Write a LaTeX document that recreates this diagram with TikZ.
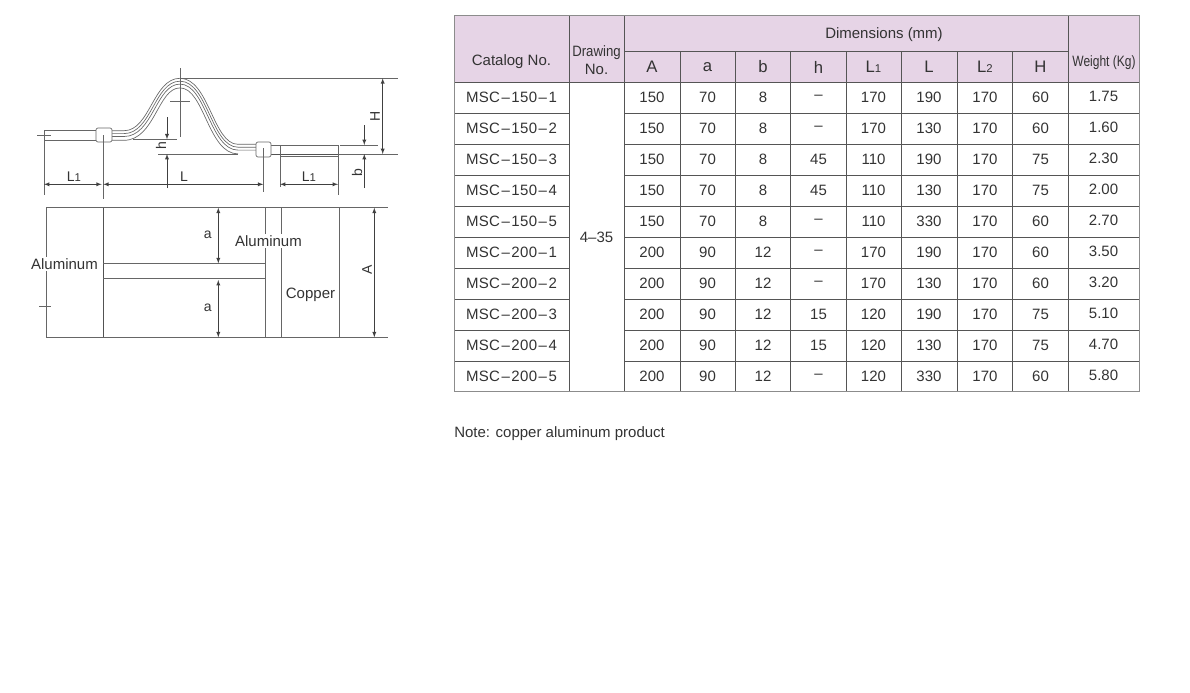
\documentclass[tikz,border=0pt]{standalone}
\usepackage{fontspec}
\setmainfont{Liberation Sans}
\usetikzlibrary{arrows,positioning}
\definecolor{hdpink}{HTML}{E6D4E6}
\definecolor{inkgray}{HTML}{333333}
\definecolor{rulegray}{HTML}{555555}
\definecolor{skgray}{HTML}{666666}
\newcommand{\sub}[1]{{\fontsize{8.5pt}{8.5pt}\selectfont #1}}
\newcommand{\dsh}{\kern1.2pt–\kern1.2pt}
\begin{document}
\begin{tikzpicture}
[x=0.75pt,y=-0.75pt,
 txt/.style={text=inkgray,inner sep=0pt,font=\fontsize{11.25pt}{13pt}\selectfont},
 hd/.style={txt,font=\fontsize{12.5pt}{14pt}\selectfont},
 lab/.style={txt,font=\fontsize{11.25pt}{12pt}\selectfont},
 dl/.style={txt,font=\fontsize{10.5pt}{12pt}\selectfont},
 labw/.style={lab,fill=white,inner ysep=1pt},
 sk/.style={draw=skgray,line width=0.5pt},
 skd/.style={draw=skgray!80!black,line width=0.75pt},
 dim/.style={draw=black!75,line width=0.4pt,latex-latex},
 dimto/.style={draw=black!75,line width=0.4pt,-latex},
 clamp/.style={draw=skgray,fill=white,rounded corners=1.5pt,line width=0.5pt,inner sep=0pt},
 grid/.style={draw=rulegray,line width=0.6pt},
 frame/.style={draw=black!45,line width=0.6pt}]
\useasboundingbox (0,0) rectangle (1190,693);

% table header
\fill[hdpink] (454,15) rectangle (1139,82);
\node[txt] (catalog) at (511.5,61.5) {Catalog No.};
\node[txt,align=center,font=\fontsize{11.25pt}{13.5pt}\selectfont] (drawing) at (596.5,60.5) {\scalebox{.88}[1]{Drawing}\\No.};
\node[txt] (dims) at (884,35) {Dimensions (mm)};
\node[txt] (weight) at (1104,62.5) {\scalebox{.8}[1]{Weight (Kg)}};
\node[hd] (hA) at (652,67) {A};
\node[hd] (ha) at (707.5,67) {a};
\node[hd] (hb) at (763,67) {b};
\node[hd] (hh) at (818.5,67) {h};
\node[hd] (hL1) at (873.5,67) {L\sub{1}};
\node[hd] (hL) at (929,67) {L};
\node[hd] (hL2) at (985,67) {L\sub{2}};
\node[hd] (hH) at (1040.5,67) {H};
\node[txt] (drawno) at (596.5,237) {4–35};

% table rows
\foreach \vcat/\vA/\va/\vb/\vh/\vLa/\vL/\vLb/\vH/\vW [count=\r] in {
 150\dsh 1/150/70/8/–/170/190/170/60/1.75,
 150\dsh 2/150/70/8/–/170/130/170/60/1.60,
 150\dsh 3/150/70/8/45/110/190/170/75/2.30,
 150\dsh 4/150/70/8/45/110/130/170/75/2.00,
 150\dsh 5/150/70/8/–/110/330/170/60/2.70,
 200\dsh 1/200/90/12/–/170/190/170/60/3.50,
 200\dsh 2/200/90/12/–/170/130/170/60/3.20,
 200\dsh 3/200/90/12/15/120/190/170/75/5.10,
 200\dsh 4/200/90/12/15/120/130/170/75/4.70,
 200\dsh 5/200/90/12/–/120/330/170/60/5.80}{
 \pgfmathsetmacro{\ry}{66.5+31*\r}
 \node[txt] (cat\r) at (511.5,\ry) {\addfontfeature{LetterSpace=2}MSC\dsh\vcat};
 \node[txt] (A\r) at (652,\ry) {\vA};
 \node[txt] (a\r) at (707.5,\ry) {\va};
 \node[txt] (b\r) at (763,\ry) {\vb};
 \node[txt] (h\r) at (818.5,\ry) {\vh};
 \node[txt] (La\r) at (873.5,\ry) {\vLa};
 \node[txt] (L\r) at (929,\ry) {\vL};
 \node[txt] (Lb\r) at (985,\ry) {\vLb};
 \node[txt] (H\r) at (1040.5,\ry) {\vH};
 \node[txt] (W\r) at (1103.5,\ry-1) {\vW};
}

% table grid
\foreach \gx in {569,624,1068} \draw[grid] (\gx,15) -- (\gx,391);
\foreach \gx in {680,735,790,846,901,957,1012} \draw[grid] (\gx,51) -- (\gx,391);
\draw[grid] (454,82) -- (1139,82);
\draw[grid] (624,51) -- (1068,51);
\foreach \gy in {113,144,175,206,237,268,299,330,361} {
 \draw[grid] (454,\gy) -- (569,\gy);
 \draw[grid] (624,\gy) -- (1139,\gy);
}
\draw[frame] (454,15) rectangle (1139,391);
\node[txt,anchor=west] (note) at (454,434) {Note: copper aluminum product};

% side view, strands
\foreach \d/\e in {0/256,2.9/256,5.8/256,9.6/238} {
 \draw[sk] (112,130.7+\d) -- (124,130.7+\d)
  .. controls (150+0.5*\d,130.7+\d) and (153+0.5*\d,78.3+\d) .. (180,78.3+\d)
  .. controls (209-0.5*\d,78.3+\d) and (213-0.5*\d,144.3+\d) .. (238,144.3+\d) -- (\e,144.3+\d);
}
% side view, bars
\draw[sk] (44,130) -- (96,130);
\draw[sk] (44,140) -- (96,140);
\draw[sk] (271,145) -- (338,145);
\draw[skd] (271,154.3) -- (338,154.3);
\draw[sk] (280,156.7) -- (338,156.7);
\draw[sk] (280,145) -- (280,187);
\draw[sk] (338,145) -- (338,195);
\node[clamp,minimum width=16pt*0.75,minimum height=14pt*0.75] (clampL) at (104,135) {};
\node[clamp,minimum width=15pt*0.75,minimum height=15pt*0.75] (clampR) at (263.5,149.5) {};

% side view, centre marks and extension lines
\draw[sk] (180,68) -- (180,137);
\draw[sk] (170,101.7) -- (190,101.7);
\draw[sk] (37,135.7) -- (51,135.7);
\draw[sk] (44,130) -- (44,195);
\draw[sk] (103.3,135) -- (103.3,199);
\draw[sk] (263.3,148) -- (263.3,192);
\draw[sk] (180,78.3) -- (398,78.3);
\draw[sk] (158,154) -- (238,154);
\draw[sk] (338,154) -- (398,154);
\draw[sk] (340,145) -- (378,145);
\draw[sk] (133,139.3) -- (177,139.3);

% side view, dimensions
\coordinate (L1a) at (44,184.3);
\coordinate (L1b) at (101.7,184.3);
\coordinate (La) at (103.3,184.3);
\coordinate (Lb) at (263.3,184.3);
\coordinate (L2a) at (280,184.3);
\coordinate (L2b) at (338,184.3);
\coordinate (Ha) at (382.7,78.3);
\coordinate (Hb) at (382.7,154);
\coordinate (b0) at (364.3,125);
\coordinate (b1) at (364.3,145);
\coordinate (b2) at (364.3,154);
\coordinate (b3) at (364.3,188);
\coordinate (h0) at (167,117);
\coordinate (h1) at (167,139.3);
\coordinate (h2) at (167,154);
\coordinate (h3) at (167,188);
\draw[dim] (L1a) -- (L1b);
\draw[dim] (La) -- (Lb);
\draw[dim] (L2a) -- (L2b);
\draw[dim] (Ha) -- (Hb);
\draw[dimto] (b0) -- (b1);
\draw[dimto] (b3) -- (b2);
\draw[dimto] (h0) -- (h1);
\draw[dimto] (h3) -- (h2);
\node[dl] (lL1) at (74,177) {L\sub{1}};
\node[dl] (lL) at (184,177) {L};
\node[dl] (lL2) at (309,177) {L\sub{1}};
\node[dl,rotate=90] (lH) at (375,116) {H};
\node[dl,rotate=90] (lh) at (161,146) {h};
\node[dl,rotate=90] (lb) at (357,173) {b};

% plan view
\draw[sk] (46,207.7) -- (388,207.7);
\draw[sk] (46,337.3) -- (388,337.3);
\draw[sk] (46,207.7) -- (46,337.3);
\draw[skd] (103.3,207.7) -- (103.3,337.3);
\draw[sk] (265,207.7) -- (265,337.3);
\draw[sk] (281.7,207.7) -- (281.7,337.3);
\draw[sk] (339.3,207.7) -- (339.3,337.3);
\draw[sk] (103.3,263.3) -- (265,263.3);
\draw[sk] (103.3,278.3) -- (265,278.3);
\draw[sk] (39,306.7) -- (51,306.7);
\coordinate (a0) at (218.3,207.7);
\coordinate (a1) at (218.3,263.3);
\coordinate (a2) at (218.3,280);
\coordinate (a3) at (218.3,337.3);
\coordinate (A0) at (374.3,207.7);
\coordinate (A1) at (374.3,337.3);
\draw[dim] (a0) -- (a1);
\draw[dim] (a2) -- (a3);
\draw[dim] (A0) -- (A1);
\node[dl] (la1) at (207.7,235) {a};
\node[dl] (la2) at (207.7,307.5) {a};
\node[dl,rotate=90] (lA) at (367,270) {A};
\node[labw] (alumL) at (64.5,264) {Aluminum};
\node[labw] (alumR) at (268.5,241) {Aluminum};
\node[lab] (copper) at (310.5,294.5) {Copper};
\end{tikzpicture}
\end{document}
